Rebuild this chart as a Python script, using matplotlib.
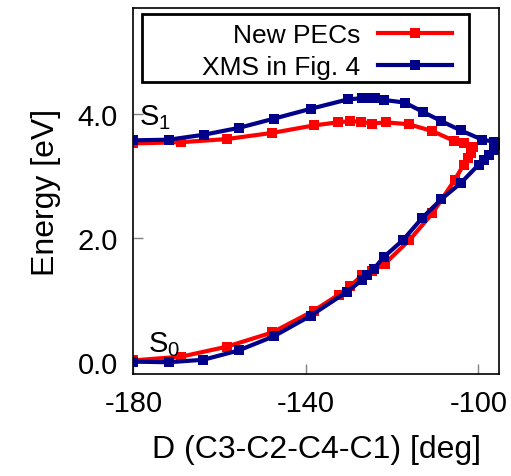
import numpy as np
import matplotlib
matplotlib.use("Agg")
import matplotlib.pyplot as plt
from matplotlib.patches import Rectangle

plt.rcParams['font.family'] = ['Liberation Sans', 'DejaVu Sans']
plt.rcParams['mathtext.fontset'] = 'custom'
plt.rcParams['mathtext.rm'] = 'Liberation Sans'
plt.rcParams['axes.unicode_minus'] = False

# New PECs (red)
new_s1_x = [-180, -168.9, -158.4, -147.8, -138.2, -132.6, -129.7, -127.3, -124.6,
            -121.5, -116.2, -110.7, -105.6, -103.4, -101.5, -101.2]
new_s1_y = [3.52, 3.54, 3.59, 3.69, 3.81, 3.86, 3.88, 3.87, 3.84,
            3.86, 3.83, 3.72, 3.56, 3.52, 3.47, 3.46]
new_s0_x = [-180, -168.9, -158.4, -147.8, -138.2, -132.4, -129.7, -127.0, -124.6,
            -121.7, -116.0, -110.7, -105.5, -103.4, -102.5, -101.7, -101.2]
new_s0_y = [0.02, 0.08, 0.24, 0.47, 0.82, 1.08, 1.22, 1.39, 1.46,
            1.58, 1.96, 2.39, 2.93, 3.18, 3.29, 3.36, 3.46]

# XMS in Fig. 4 (blue)
xms_s1_x = [-180, -171.8, -163.7, -155.6, -147.4, -138.8, -130.3, -127.0, -125.0,
            -123.9, -121.8, -117.1, -112.9, -108.6, -104.1, -99.1, -96.4, -95.7]
xms_s1_y = [3.57, 3.58, 3.66, 3.77, 3.92, 4.08, 4.23, 4.25, 4.25,
            4.25, 4.22, 4.18, 4.03, 3.88, 3.73, 3.58, 3.55, 3.52]
xms_s0_x = [-180, -171.8, -163.8, -155.6, -147.4, -138.9, -130.4, -126.9, -125.8,
            -124.2, -121.9, -117.5, -113.0, -108.6, -104.1, -99.9, -98.7, -97.6,
            -96.4, -95.7]
xms_s0_y = [0.0, -0.01, 0.03, 0.18, 0.41, 0.74, 1.13, 1.32, 1.40,
            1.50, 1.69, 1.96, 2.32, 2.62, 2.88, 3.18, 3.26, 3.34,
            3.42, 3.50]

red = '#ff0000'
blue = '#00008b'

fig = plt.figure(figsize=(5.11, 4.77), dpi=100)
ax = fig.add_axes([0.261, 0.2138, 0.7157, 0.7667])

style = dict(lw=3, marker='s', ms=7.5, mew=0)
ax.plot(new_s1_x, new_s1_y, color=red, label='New PECs', **style)
ax.plot(new_s0_x, new_s0_y, color=red, **style)
ax.plot(xms_s1_x, xms_s1_y, color=blue, label='XMS in Fig. 4', **style)
ax.plot(xms_s0_x, xms_s0_y, color=blue, **style)

ax.text(-178.8, 3.83, r'$\mathregular{S_1}$', fontsize=21)
ax.text(-176.5, 0.17, r'$\mathregular{S_0}$', fontsize=21)

ax.set_xlim(-180, -95.2)
ax.set_ylim(-0.2, 5.7)
ax.set_xticks([-180, -140, -100])
ax.set_yticks([0, 2, 4])
ax.set_yticklabels(['0.0', '2.0', '4.0'])
ax.tick_params(direction='in', length=7, width=1, color='#808080',
               labelsize=21, pad=11)
for s in ax.spines.values():
    s.set_linewidth(1.2)

ax.set_xlabel('D (C3-C2-C4-C1) [deg]', fontsize=23, labelpad=12)
ax.set_ylabel('Energy [eV]', fontsize=23, labelpad=12)

# legend box (gnuplot style: wide frame, text right-aligned before the sample)
ax.add_patch(Rectangle((0.023, 0.799), 0.895, 0.185, transform=ax.transAxes,
                       facecolor='white', edgecolor='black', lw=2, zorder=4))
leg = ax.legend(loc='upper right', bbox_to_anchor=(0.8715, 0.96), markerfirst=False,
                fontsize=19, frameon=False, handlelength=2.8,
                borderpad=0.0, labelspacing=0.3, handletextpad=0.68,
                borderaxespad=0.0)
leg.set_zorder(5)

fig.savefig('out.png', dpi=100)
